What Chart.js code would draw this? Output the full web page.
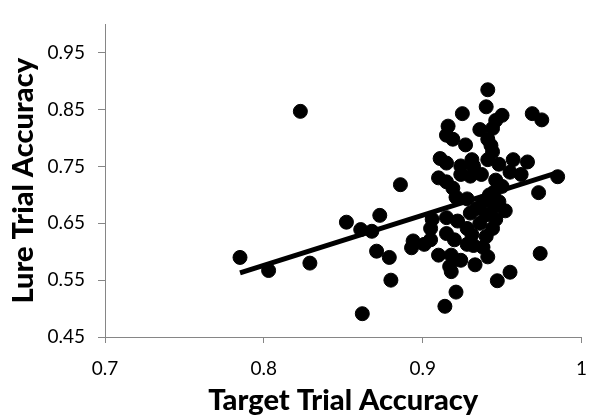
<!DOCTYPE html>
<html>
<head>
<meta charset="utf-8">
<script src="https://cdn.jsdelivr.net/npm/chart.js@4/dist/chart.umd.min.js"></script>
<style>
  html, body { margin: 0; padding: 0; background: #fff; }
  #wrap { width: 601px; height: 419px; }
</style>
</head>
<body>
<div id="wrap"><canvas id="scatterChart" width="601" height="419"></canvas></div>
<script>
// target vs lure accuracy, one entry per subject
const targetAcc = [
  0.785, 0.803, 0.829, 0.823, 0.852, 0.861, 0.868, 0.873, 0.886, 0.871,
  0.879, 0.880, 0.862, 0.893, 0.894, 0.941, 0.940, 0.925, 0.950, 0.946,
  0.944, 0.969, 0.975, 0.916, 0.915, 0.919, 0.927, 0.936, 0.941, 0.943,
  0.944, 0.911, 0.915, 0.924, 0.931, 0.932, 0.941, 0.948, 0.957, 0.966,
  0.910, 0.915, 0.924, 0.930, 0.937, 0.946, 0.955, 0.962, 0.985, 0.973,
  0.919, 0.921, 0.928, 0.952, 0.946, 0.944, 0.940, 0.938, 0.941, 0.930,
  0.915, 0.922, 0.906, 0.905, 0.905, 0.915, 0.920, 0.928, 0.931, 0.928,
  0.932, 0.901, 0.910, 0.918, 0.924, 0.917, 0.918, 0.933, 0.955, 0.947,
  0.921, 0.914, 0.974, 0.944, 0.938, 0.948, 0.934, 0.940, 0.945, 0.950,
  0.942, 0.936, 0.945
];
const lureAcc = [
  0.590, 0.567, 0.580, 0.847, 0.652, 0.639, 0.636, 0.664, 0.718, 0.601,
  0.590, 0.550, 0.491, 0.607, 0.619, 0.885, 0.855, 0.843, 0.840, 0.831,
  0.817, 0.843, 0.832, 0.821, 0.805, 0.798, 0.788, 0.815, 0.798, 0.787,
  0.776, 0.764, 0.756, 0.751, 0.762, 0.751, 0.762, 0.754, 0.762, 0.758,
  0.730, 0.723, 0.736, 0.733, 0.736, 0.726, 0.740, 0.736, 0.732, 0.704,
  0.712, 0.696, 0.693, 0.672, 0.657, 0.641, 0.627, 0.608, 0.591, 0.668,
  0.660, 0.654, 0.657, 0.641, 0.621, 0.632, 0.621, 0.641, 0.630, 0.613,
  0.611, 0.613, 0.594, 0.594, 0.585, 0.574, 0.565, 0.577, 0.564, 0.549,
  0.529, 0.504, 0.597, 0.693, 0.688, 0.688, 0.676, 0.665, 0.705, 0.715,
  0.700, 0.650, 0.680
];

// linear trend line end points
const fitX = [0.785, 0.986];
const fitY = [0.563, 0.740];

const xTicks = [0.7, 0.8, 0.9, 1];
const yTicks = [0.45, 0.55, 0.65, 0.75, 0.85, 0.95];

const AXIS_GRAY = "#868686";
const FONT = "Lato, 'Open Sans', sans-serif";

function init() {
  const ctx = document.getElementById("scatterChart").getContext("2d");
  const points = targetAcc.map((x, i) => ({ x, y: lureAcc[i] }));
  const fitLine = fitX.map((x, i) => ({ x, y: fitY[i] }));

  new Chart(ctx, {
    type: "scatter",
    data: {
      datasets: [
        {
          label: "Subjects",
          data: points,
          backgroundColor: "#000",
          borderColor: "#000",
          pointRadius: 7,
          pointHoverRadius: 7,
          order: 2,
        },
        {
          label: "Trend",
          type: "line",
          data: fitLine,
          borderColor: "#000",
          borderWidth: 5,
          pointRadius: 0,
          fill: false,
          order: 1,
        },
      ],
    },
    options: {
      responsive: false,
      animation: false,
      events: [],
      layout: { padding: { top: 4, right: 15, bottom: 0, left: 0 } },
      plugins: {
        legend: { display: false },
        tooltip: { enabled: false },
      },
      scales: {
        x: {
          type: "linear",
          min: 0.7,
          max: 1,
          afterBuildTicks: (scale) => {
            scale.ticks = xTicks.map((v) => ({ value: v }));
          },
          afterFit: (scale) => {
            scale.height = 82;
          },
          ticks: {
            color: "#000",
            font: { family: FONT, size: 19 },
            padding: 14,
            maxRotation: 0,
            callback: (v) => String(v),
          },
          grid: {
            display: true,
            drawOnChartArea: false,
            drawTicks: true,
            tickLength: 6,
            color: AXIS_GRAY,
          },
          border: { color: AXIS_GRAY, width: 1 },
          title: {
            display: true,
            text: "Target Trial Accuracy",
            color: "#000",
            font: { family: FONT, size: 29, weight: "900" },
            padding: { top: 0, bottom: 1 },
          },
        },
        y: {
          type: "linear",
          min: 0.45,
          max: 1,
          afterBuildTicks: (scale) => {
            scale.ticks = yTicks.map((v) => ({ value: v }));
          },
          afterFit: (scale) => {
            scale.width = 105;
          },
          ticks: {
            color: "#000",
            font: { family: FONT, size: 19 },
            padding: 13,
            callback: (v) => v.toFixed(2),
          },
          grid: {
            display: true,
            drawOnChartArea: false,
            drawTicks: true,
            tickLength: 7,
            color: AXIS_GRAY,
          },
          border: { color: AXIS_GRAY, width: 1 },
          title: {
            display: true,
            text: "Lure Trial Accuracy",
            color: "#000",
            font: { family: FONT, size: 29, weight: "900" },
            padding: { top: 6, bottom: 0 },
          },
        },
      },
    },
  });
}

document.addEventListener("DOMContentLoaded", init);
</script>
</body>
</html>
